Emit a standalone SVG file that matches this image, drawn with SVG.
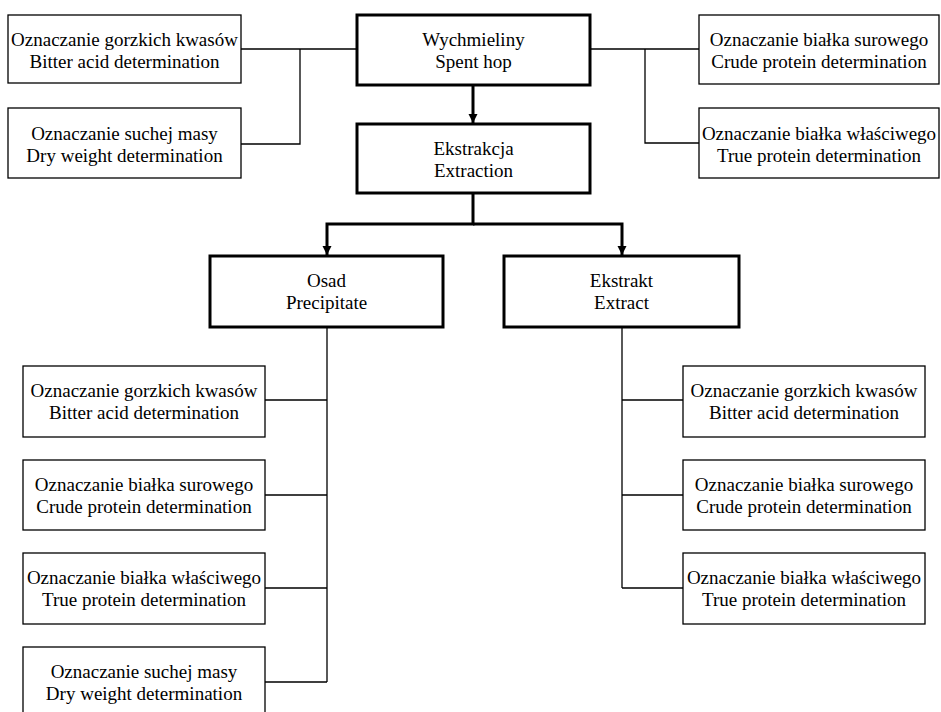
<svg xmlns="http://www.w3.org/2000/svg" width="941" height="712" viewBox="0 0 941 712" font-family="'Liberation Serif', 'Times New Roman', Tinos, 'DejaVu Serif', serif">
<style>
.box{fill:#fff;stroke:#000;stroke-width:1.3}
.main{fill:#fff;stroke:#000;stroke-width:3}
text{font-family:'Liberation Serif','Times New Roman',Tinos,'DejaVu Serif',serif;font-size:19px;fill:#000;text-anchor:middle}
.ln{fill:none;stroke:#000;stroke-width:1.3}
.th{fill:none;stroke:#000;stroke-width:3}
</style>
<defs>
<marker id="ah" viewBox="0 0 10 10" refX="10" refY="5" markerWidth="3" markerHeight="3.4" orient="auto" markerUnits="strokeWidth">
<path d="M0,0 L10,5 L0,10 z" fill="#000"/>
</marker>
</defs>
<rect width="941" height="712" fill="#fff"/>
<g id="connectors">
<path class="ln" d="M241,49 H357 M300,49 V144 H241"/>
<path class="ln" d="M590,49 H699 M645,49 V143 H699"/>
<path class="th" d="M473,85 V123" marker-end="url(#ah)"/>
<path class="th" d="M473,193 V224 H327 V255" marker-end="url(#ah)"/>
<path class="th" d="M473,224 H622 V255" marker-end="url(#ah)"/>
<path class="ln" d="M327,327 V682 M265,400 H327 M265,495 H327 M265,588 H327 M265,682 H327"/>
<path class="ln" d="M622,327 V588 M622,400 H683 M622,495 H683 M622,588 H683"/>
</g>
<g id="n_bitter_top"><rect class="box" x="8" y="15" width="233" height="68"/><text x="124.5" y="46">Oznaczanie gorzkich kwasów</text><text x="124.5" y="68">Bitter acid determination</text></g>
<g id="n_dry_top"><rect class="box" x="8" y="108" width="233" height="70"/><text x="124.5" y="140">Oznaczanie suchej masy</text><text x="124.5" y="162">Dry weight determination</text></g>
<g id="n_spent"><rect class="main" x="357" y="15" width="233" height="70"/><text x="473.5" y="46">Wychmieliny</text><text x="473.5" y="68">Spent hop</text></g>
<g id="n_crude_top"><rect class="box" x="699" y="15" width="240" height="69"/><text x="819" y="46">Oznaczanie białka surowego</text><text x="819" y="68">Crude protein determination</text></g>
<g id="n_true_top"><rect class="box" x="699" y="108" width="240" height="70"/><text x="819" y="140">Oznaczanie białka właściwego</text><text x="819" y="162">True protein determination</text></g>
<g id="n_extraction"><rect class="main" x="357" y="124" width="233" height="69"/><text x="473.5" y="155">Ekstrakcja</text><text x="473.5" y="177">Extraction</text></g>
<g id="n_osad"><rect class="main" x="210" y="256" width="233" height="71"/><text x="326.5" y="287">Osad</text><text x="326.5" y="309">Precipitate</text></g>
<g id="n_ekstrakt"><rect class="main" x="504" y="256" width="235" height="71"/><text x="621.5" y="287">Ekstrakt</text><text x="621.5" y="309">Extract</text></g>
<g id="n_osad_bitter"><rect class="box" x="23" y="366" width="242" height="71"/><text x="144" y="397">Oznaczanie gorzkich kwasów</text><text x="144" y="419">Bitter acid determination</text></g>
<g id="n_osad_crude"><rect class="box" x="23" y="460" width="242" height="70"/><text x="144" y="491">Oznaczanie białka surowego</text><text x="144" y="513">Crude protein determination</text></g>
<g id="n_osad_true"><rect class="box" x="23" y="553" width="242" height="71"/><text x="144" y="584">Oznaczanie białka właściwego</text><text x="144" y="606">True protein determination</text></g>
<g id="n_osad_dry"><rect class="box" x="23" y="647" width="242" height="80"/><text x="144" y="678">Oznaczanie suchej masy</text><text x="144" y="700">Dry weight determination</text></g>
<g id="n_ext_bitter"><rect class="box" x="683" y="366" width="242" height="71"/><text x="804" y="397">Oznaczanie gorzkich kwasów</text><text x="804" y="419">Bitter acid determination</text></g>
<g id="n_ext_crude"><rect class="box" x="683" y="460" width="242" height="70"/><text x="804" y="491">Oznaczanie białka surowego</text><text x="804" y="513">Crude protein determination</text></g>
<g id="n_ext_true"><rect class="box" x="683" y="553" width="242" height="71"/><text x="804" y="584">Oznaczanie białka właściwego</text><text x="804" y="606">True protein determination</text></g>
</svg>
